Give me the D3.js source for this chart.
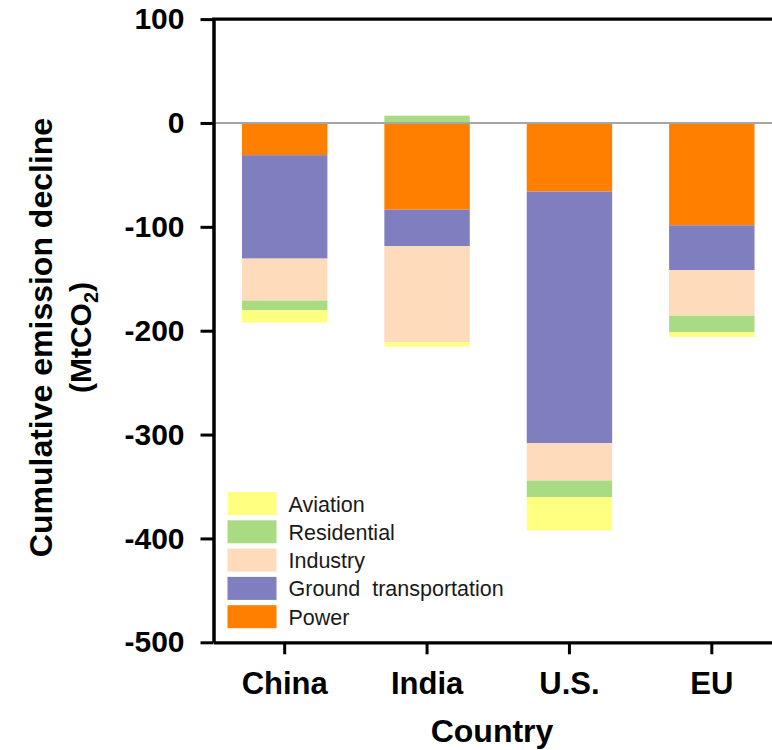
<!DOCTYPE html>
<html>
<head>
<meta charset="utf-8">
<script src="https://cdn.jsdelivr.net/npm/d3@7"></script>
<style>
  html, body { margin: 0; padding: 0; background: #fff; }
  svg { display: block; }
  text { font-family: "Liberation Sans", Arial, Helvetica, sans-serif; }
</style>
</head>
<body>
<svg id="chart" width="772" height="750"></svg>
<script>
// Countries along the x axis
const categories = ["China", "India", "U.S.", "EU"];

// Sector contributions (MtCO2), stacked from zero outward
const sectors = ["Power", "Ground transportation", "Industry", "Residential", "Aviation"];
const power       = [-31, -83.5, -66, -98.5];
const ground      = [-99.6, -35.2, -242.3, -43.3];
const industry    = [-40.4, -92.4, -36, -43.7];
const residential = [-9.2, 7, -16, -16];
const aviation    = [-12, -4.3, -32.1, -4.5];

const sectorColors = ["#ff8000", "#7f7fbf", "#fddbbb", "#a9dc82", "#ffff80"];

// Legend lists the sectors bottom-up of the stack
const legendOrder = ["Aviation", "Residential", "Industry", "Ground transportation", "Power"];

// Y axis ticks
const yTicks = [100, 0, -100, -200, -300, -400, -500];

const rows = categories.map((c, i) => ({
  country: c,
  "Power": power[i],
  "Ground transportation": ground[i],
  "Industry": industry[i],
  "Residential": residential[i],
  "Aviation": aviation[i]
}));

const svg = d3.select("#chart");

const plotLeft = 213.5, plotRight = 783, plotTop = 19.1, plotBottom = 642.3;

const x = d3.scaleBand()
  .domain(categories)
  .range([plotLeft, plotRight])
  .paddingInner(0.4)
  .paddingOuter(0.2);

const y = d3.scaleLinear()
  .domain([-500, 100])
  .range([plotBottom, plotTop]);

const color = d3.scaleOrdinal().domain(sectors).range(sectorColors);

const stacked = d3.stack()
  .keys(sectors)
  .offset(d3.stackOffsetDiverging)(rows);

// Bars
svg.append("g")
  .selectAll("g")
  .data(stacked)
  .join("g")
    .attr("fill", d => color(d.key))
  .selectAll("rect")
  .data(d => d)
  .join("rect")
    .attr("x", d => x(d.data.country))
    .attr("width", x.bandwidth())
    .attr("y", d => y(Math.max(d[0], d[1])))
    .attr("height", d => Math.abs(y(d[0]) - y(d[1])));

// Zero reference line
svg.append("line")
  .attr("x1", plotLeft).attr("x2", plotRight)
  .attr("y1", y(0)).attr("y2", y(0))
  .attr("stroke", "#a6a6a6")
  .attr("stroke-width", 2);

// Top frame edge
svg.append("line")
  .attr("x1", plotLeft - 1.5).attr("x2", plotRight)
  .attr("y1", plotTop).attr("y2", plotTop)
  .attr("stroke", "#000")
  .attr("stroke-width", 3.2);

// Y axis (plain hyphen for negative labels)
const yAxis = svg.append("g")
  .attr("transform", `translate(${plotLeft},0)`)
  .call(d3.axisLeft(y).tickValues(yTicks).tickFormat(d => String(d))
    .tickSize(13).tickSizeOuter(0).tickPadding(16));
yAxis.select(".domain").attr("stroke-width", 3.5);
yAxis.selectAll(".tick line").attr("stroke-width", 3);
yAxis.selectAll(".tick text")
  .attr("font-size", 30)
  .attr("font-weight", "bold")
  .attr("fill", "#000")
  .style("font-family", "'Liberation Sans', Arial, sans-serif");

// X axis
const xAxis = svg.append("g")
  .attr("transform", `translate(0,${plotBottom})`)
  .call(d3.axisBottom(x).tickSize(12).tickSizeOuter(0).tickPadding(18));
xAxis.select(".domain").attr("stroke-width", 3.2);
xAxis.selectAll(".tick line").attr("stroke-width", 3);
xAxis.selectAll(".tick text")
  .attr("font-size", 31)
  .attr("font-weight", "bold")
  .attr("fill", "#000")
  .style("font-family", "'Liberation Sans', Arial, sans-serif");

// X axis title
svg.append("text")
  .attr("x", 492)
  .attr("y", 742)
  .attr("text-anchor", "middle")
  .attr("font-size", 32)
  .attr("font-weight", "bold")
  .text("Country");

// Y axis title (two lines)
const yTitle = svg.append("text")
  .attr("transform", "translate(52,337.5) rotate(-90)")
  .attr("text-anchor", "middle")
  .attr("font-size", 32)
  .attr("font-weight", "bold");
yTitle.append("tspan")
  .attr("x", 0).attr("y", 0)
  .text("Cumulative emission decline");
const line2 = yTitle.append("tspan")
  .attr("x", 0).attr("y", 38.7)
  .attr("font-size", 30);
line2.append("tspan").text("(MtCO");
line2.append("tspan").attr("font-size", 20).attr("dy", 7).text("2");
line2.append("tspan").attr("dy", -7).text(")");

// Legend
const legend = svg.append("g")
  .selectAll("g")
  .data(legendOrder)
  .join("g")
    .attr("transform", (d, i) => `translate(227.5,${492 + i * 28.3})`);
legend.append("rect")
  .attr("width", 49)
  .attr("height", 23)
  .attr("fill", d => color(d));
legend.append("text")
  .attr("x", 61)
  .attr("y", 19.5)
  .attr("font-size", 21.5)
  .attr("fill", "#1a1a1a")
  .attr("word-spacing", d => d === "Ground transportation" ? 6 : 0)
  .text(d => d);
</script>
</body>
</html>
